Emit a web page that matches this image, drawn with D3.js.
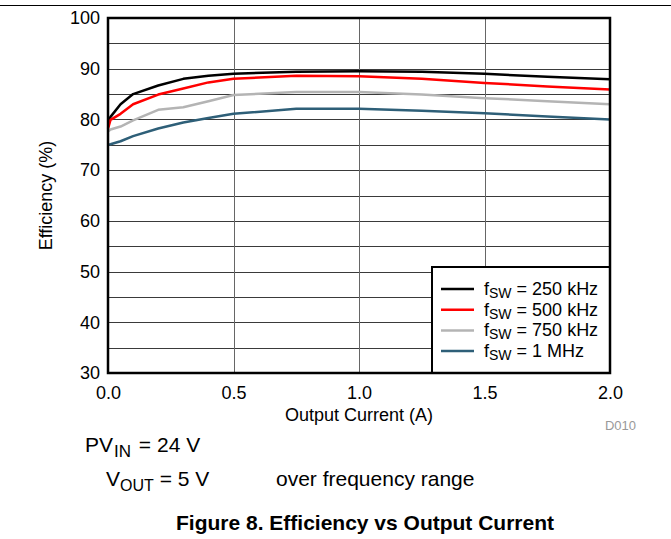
<!DOCTYPE html>
<html>
<head>
<meta charset="utf-8">
<script src="https://cdn.jsdelivr.net/npm/d3@7"></script>
<style>
  body { margin: 0; background: #fff; }
  svg { display: block; font-family: "Liberation Sans", Arial, sans-serif; }
</style>
</head>
<body>
<svg id="chart" width="671" height="539"></svg>
<script>
const current = [0, 0.01, 0.05, 0.1, 0.2, 0.3, 0.4, 0.5, 0.75, 1.0, 1.25, 1.5, 1.75, 2.0];
const eff250k = [79.8, 80.5, 83.0, 85.0, 86.7, 88.0, 88.6, 89.0, 89.4, 89.5, 89.4, 89.0, 88.4, 87.9];
const eff500k = [78.2, 79.9, 81.1, 83.0, 84.9, 86.1, 87.3, 88.0, 88.6, 88.5, 88.0, 87.2, 86.5, 85.9];
const eff750k = [77.6, 78.0, 78.6, 79.8, 81.9, 82.4, 83.6, 84.8, 85.4, 85.4, 84.9, 84.2, 83.6, 83.0];
const eff1M   = [75.0, 75.1, 75.7, 76.7, 78.2, 79.4, 80.3, 81.1, 82.1, 82.1, 81.7, 81.2, 80.6, 80.0];
const seriesNames = ["250 kHz", "500 kHz", "750 kHz", "1 MHz"];
const seriesColors = ["#000000", "#ff0000", "#b4b4b4", "#2e5f78"];
const xTicks = [0, 0.5, 1.0, 1.5, 2.0];
const yTicks = [30, 40, 50, 60, 70, 80, 90, 100];
const yGrid = [35, 40, 45, 50, 55, 60, 65, 70, 75, 80, 85, 90, 95];

const svg = d3.select("#chart");
const L = 108, R = 610, T = 18, B = 373;
const x = d3.scaleLinear().domain([0, 2]).range([L, R]);
const y = d3.scaleLinear().domain([30, 100]).range([B, T]);

// top rule
svg.append("line").attr("x1", 0).attr("x2", 671).attr("y1", 5.5).attr("y2", 5.5)
  .attr("stroke", "#000").attr("stroke-width", 1);

// grid
svg.append("g").selectAll("line").data(yGrid).join("line")
  .attr("x1", L).attr("x2", R).attr("y1", d => Math.round(y(d)) + 0.5).attr("y2", d => Math.round(y(d)) + 0.5)
  .attr("stroke", "#3a3a3a").attr("stroke-width", 1);
svg.append("g").selectAll("line").data([0.5, 1.0, 1.5]).join("line")
  .attr("y1", T).attr("y2", B).attr("x1", d => Math.round(x(d)) + 0.5).attr("x2", d => Math.round(x(d)) + 0.5)
  .attr("stroke", "#666").attr("stroke-width", 1);

// lines
const allSeries = [eff250k, eff500k, eff750k, eff1M];
const lineGen = d3.line().x(d => x(d[0])).y(d => y(d[1]));
allSeries.forEach((s, i) => {
  svg.append("path").datum(current.map((c, k) => [c, s[k]]))
    .attr("d", lineGen).attr("fill", "none")
    .attr("stroke", seriesColors[i]).attr("stroke-width", 2.5)
    .attr("stroke-linejoin", "round");
});

// legend
const lgX = 432, lgY = 267;
svg.append("rect").attr("x", lgX).attr("y", lgY).attr("width", R - lgX).attr("height", B - lgY)
  .attr("fill", "#fff").attr("stroke", "#000").attr("stroke-width", 2);
seriesNames.forEach((n, i) => {
  const yy = lgY + 22 + i * 20.7;
  svg.append("line").attr("x1", 441).attr("x2", 474).attr("y1", yy).attr("y2", yy)
    .attr("stroke", seriesColors[i]).attr("stroke-width", 2.5);
  const t = svg.append("text").attr("x", 484).attr("y", yy + 6).attr("font-size", 18).attr("fill", "#000");
  t.append("tspan").text("f");
  t.append("tspan").attr("font-size", 14).attr("dy", 3).text("SW");
  t.append("tspan").attr("dy", -3).text(" = " + n);
});

// frame
svg.append("rect").attr("x", L).attr("y", T).attr("width", R - L).attr("height", B - T)
  .attr("fill", "none").attr("stroke", "#000").attr("stroke-width", 2.5);

// axes
const xAxis = d3.axisBottom(x).tickValues(xTicks).tickSize(0).tickPadding(13).tickFormat(d3.format(".1f"));
const gx = svg.append("g").attr("transform", `translate(0,${B})`).call(xAxis);
gx.select(".domain").remove();
gx.selectAll("text").attr("font-size", 18).attr("font-family", "Liberation Sans, Arial, sans-serif").attr("fill", "#000");

const yAxis = d3.axisLeft(y).tickValues(yTicks).tickSize(0).tickPadding(8).tickFormat(d3.format("d"));
const gy = svg.append("g").attr("transform", `translate(${L},0)`).call(yAxis);
gy.select(".domain").remove();
gy.selectAll("text").attr("font-size", 18).attr("font-family", "Liberation Sans, Arial, sans-serif").attr("fill", "#000");

// axis titles
svg.append("text").attr("x", (L + R) / 2).attr("y", 421).attr("text-anchor", "middle")
  .attr("font-size", 18).text("Output Current (A)");
svg.append("text").attr("transform", `translate(52,${(T + B) / 2}) rotate(-90)`).attr("text-anchor", "middle")
  .attr("font-size", 18).text("Efficiency (%)");
svg.append("text").attr("x", 636).attr("y", 430).attr("text-anchor", "end")
  .attr("font-size", 13).attr("fill", "#999").text("D010");

// notes
const n1 = svg.append("text").attr("x", 85).attr("y", 452).attr("font-size", 21);
n1.append("tspan").text("PV");
n1.append("tspan").attr("font-size", 17).attr("dy", 5).attr("dx", 1).text("IN");
n1.append("tspan").attr("dy", -5).attr("dx", 2).text(" = 24 V");
const n2 = svg.append("text").attr("x", 106).attr("y", 486).attr("font-size", 21);
n2.append("tspan").text("V");
n2.append("tspan").attr("font-size", 16).attr("dy", 5).text("OUT");
n2.append("tspan").attr("dy", -5).text(" = 5 V");
svg.append("text").attr("x", 276).attr("y", 486).attr("font-size", 21).text("over frequency range");

svg.append("text").attr("x", 365).attr("y", 530).attr("text-anchor", "middle")
  .attr("font-size", 21).attr("font-weight", "bold").text("Figure 8. Efficiency vs Output Current");
</script>
</body>
</html>
